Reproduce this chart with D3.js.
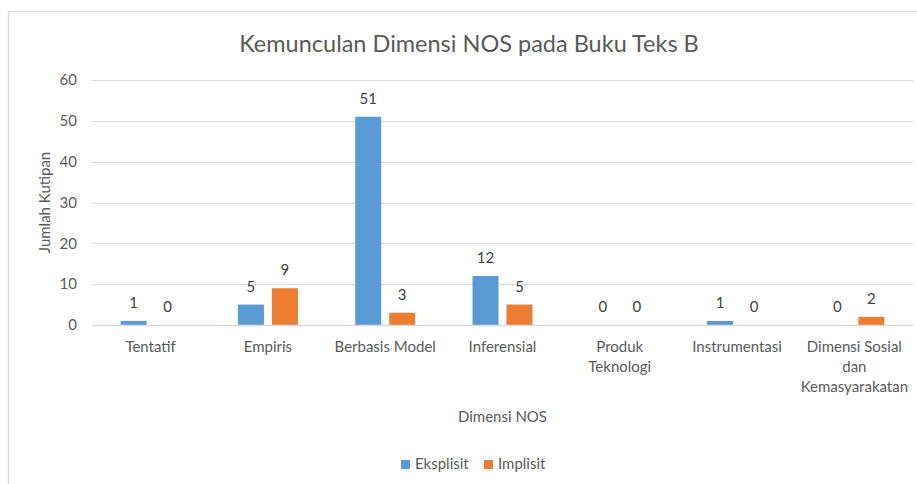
<!DOCTYPE html>
<html><head><meta charset="utf-8">
<script src="https://cdn.jsdelivr.net/npm/d3@7"></script>
<style>body{margin:0;background:#fff}svg{display:block}text{font-family:Lato,"Open Sans",sans-serif}</style>
</head><body>
<svg id="c" width="917" height="484"></svg>
<script>
const categories = [["Tentatif"],["Empiris"],["Berbasis Model"],["Inferensial"],["Produk","Teknologi"],["Instrumentasi"],["Dimensi Sosial","dan","Kemasyarakatan"]];
const seriesNames = ["Eksplisit","Implisit"];
const eksplisit = [1,5,51,12,0,1,0];
const implisit = [0,9,3,5,0,0,2];
const yTicks = [0,10,20,30,40,50,60];
const colors = ["#5B9BD5","#ED7D31"];
const title = "Kemunculan Dimensi NOS pada Buku Teks B";
const xTitle = "Dimensi NOS";
const yTitle = "Jumlah Kutipan";

const svg = d3.select("#c");
svg.append("rect").attr("x",8.5).attr("y",11.5).attr("width",930).attr("height",490)
  .attr("fill","#fff").attr("stroke","#d9d9d9").attr("stroke-width",1.5);

const pL=92,pR=913,pT=80,pB=325;
const fs = "15px";
const catKeys = categories.map(c=>c.join(" "));
const x0 = d3.scaleBand().domain(catKeys).range([pL,pR]).padding(0);
const y = d3.scaleLinear().domain([0,60]).range([pB,pT]);
const bw = 26, gap = 8;
const x1 = d3.scaleBand().domain(seriesNames).range([-(bw+gap/2), bw+gap/2]).paddingInner(gap/(bw+gap)).paddingOuter(0);

// gridlines
svg.append("g").selectAll("line").data(yTicks).join("line")
  .attr("x1",pL).attr("x2",pR).attr("y1",d=>Math.round(y(d))+0.5).attr("y2",d=>Math.round(y(d))+0.5)
  .attr("stroke","#d9d9d9").attr("stroke-width",1);

// y axis labels
const yAxis = d3.axisLeft(y).tickValues(yTicks).tickSize(0).tickPadding(0);
const ya = svg.append("g").attr("transform",`translate(77,0)`).call(yAxis);
ya.select(".domain").remove();
ya.selectAll("text").attr("fill","#595959").style("font-size",fs).style("font-family","Lato,'Open Sans',sans-serif");

const data = seriesNames.map((s,i)=>({name:s, values: i===0?eksplisit:implisit, color: colors[i]}));

data.forEach(s=>{
  const g = svg.append("g");
  g.selectAll("rect").data(s.values.map((v,i)=>({v,c:catKeys[i]}))).join("rect")
    .attr("x",d=>x0(d.c)+x0.bandwidth()/2+x1(s.name))
    .attr("width",x1.bandwidth())
    .attr("y",d=>y(d.v))
    .attr("height",d=>y(0)-y(d.v))
    .attr("fill",s.color);
  g.selectAll("text").data(s.values.map((v,i)=>({v,c:catKeys[i]}))).join("text")
    .attr("x",d=>x0(d.c)+x0.bandwidth()/2+x1(s.name)+x1.bandwidth()/2)
    .attr("y",d=>y(d.v)-13)
    .attr("text-anchor","middle").attr("fill","#404040").style("font-size",fs)
    .text(d=>d.v);
});

// baseline
svg.append("line").attr("x1",pL).attr("x2",pR).attr("y1",Math.round(y(0))+0.5).attr("y2",Math.round(y(0))+0.5)
  .attr("stroke","#d9d9d9").attr("stroke-width",1.5);

// x labels
const xl = svg.append("g").selectAll("text").data(categories).join("text")
  .attr("text-anchor","middle").attr("fill","#595959").style("font-size",fs)
  .attr("x",d=>x0(d.join(" "))+x0.bandwidth()/2).attr("y",352);
xl.selectAll("tspan").data(d=>d).join("tspan")
  .attr("x",function(){return this.parentNode.getAttribute("x");})
  .attr("dy",(d,i)=>i===0?0:20).text(d=>d);

// title
svg.append("text").attr("x",469).attr("y",52).attr("text-anchor","middle")
  .attr("fill","#595959").style("font-size","23.5px").text(title);
// axis titles
svg.append("text").attr("x",(pL+pR)/2).attr("y",422).attr("text-anchor","middle")
  .attr("fill","#595959").style("font-size",fs).text(xTitle);
svg.append("text").attr("transform",`translate(50,${(pT+pB)/2}) rotate(-90)`).attr("text-anchor","middle")
  .attr("fill","#595959").style("font-size",fs).text(yTitle);

// legend
const lg = svg.append("g");
const lx = [401,484];
data.forEach((s,i)=>{
  lg.append("rect").attr("x",lx[i]).attr("y",460).attr("width",9).attr("height",9).attr("fill",s.color);
  lg.append("text").attr("x",lx[i]+14).attr("y",469).attr("fill","#595959").style("font-size",fs).text(s.name);
});
</script>
</body></html>
